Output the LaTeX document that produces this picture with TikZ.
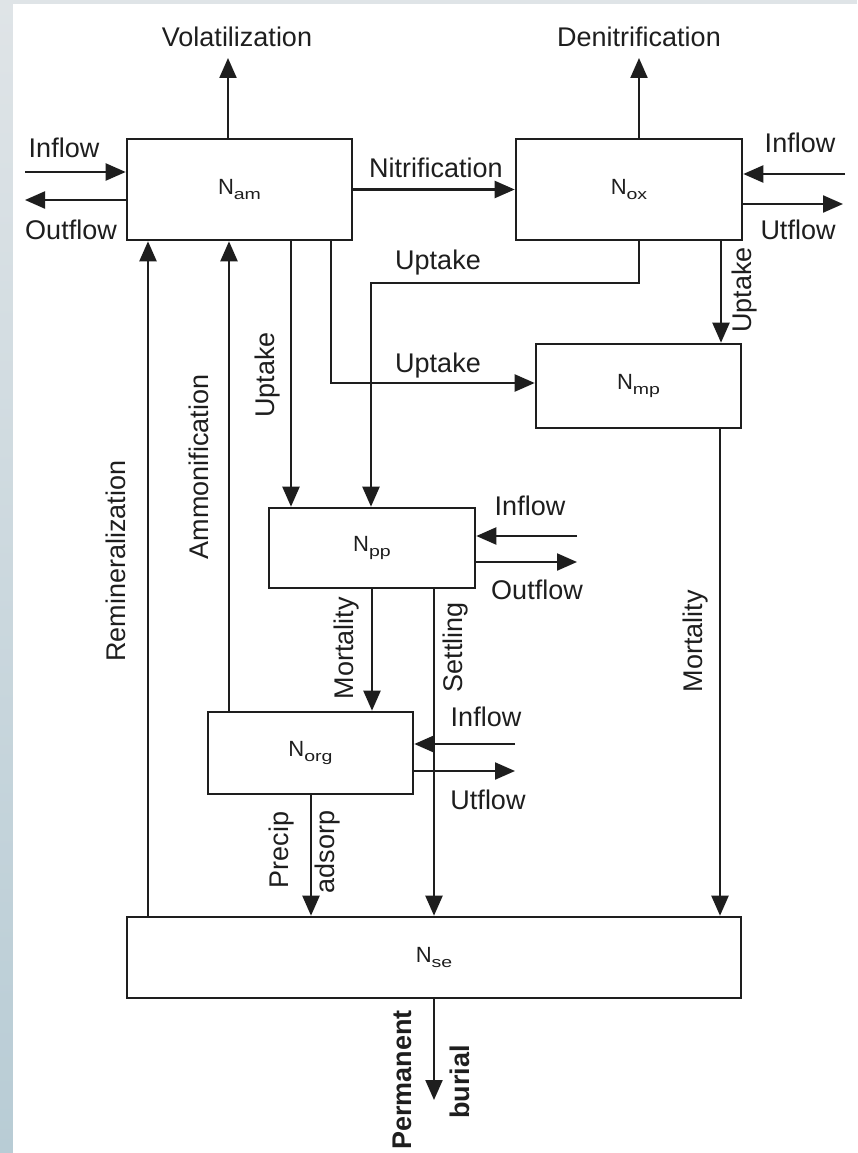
\documentclass[tikz,border=0pt]{standalone}
\usepackage{fontspec}
\usepackage{graphicx}
\setmainfont{Liberation Sans}
\usetikzlibrary{arrows.meta}
\definecolor{ink}{HTML}{1E1E1E}
\definecolor{framec}{HTML}{DFE4E7}
\definecolor{stripb}{HTML}{B8CCD5}
\newcommand\Nsub[1]{N\raisebox{-0.22em}{\scalebox{1.3}[1]{\fontsize{15}{17}\selectfont #1}}}
\begin{document}
\begin{tikzpicture}[x=1pt,y=-1pt,
  box/.style={draw=ink, line width=2.6pt, fill=white, inner sep=0pt,
    font=\fontsize{22}{26}\selectfont, text=ink},
  arr/.style={draw=ink, line width=2.2pt, -{Triangle[length=20pt,width=17pt]}},
  lab/.style={font=\fontsize{27}{32}\selectfont, text=ink, inner sep=0pt},
  rlab/.style={lab, rotate=90},
  blab/.style={lab, rotate=90, font=\fontsize{27}{32}\selectfont\bfseries}]
\useasboundingbox (0,0) rectangle (857,1153);
\fill[framec] (0,0) rectangle (857,1153);
\shade[top color=framec, bottom color=stripb] (0,0) rectangle (13,1153);
\fill[white] (13,4) rectangle (857,1153);

% boxes
\node[box, minimum width=225pt, minimum height=101pt] (am) at (239.5,189.5) {\Nsub{am}};
\node[box, minimum width=226pt, minimum height=101pt] (ox) at (629,189.5) {\Nsub{ox}};
\node[box, minimum width=205pt, minimum height=84pt] (mp) at (638.5,386) {\Nsub{mp}};
\node[box, minimum width=206pt, minimum height=80pt] (pp) at (372,548) {\Nsub{pp}};
\node[box, minimum width=205pt, minimum height=82pt] (org) at (310.5,753) {\Nsub{org}};
\node[box, minimum width=614pt, minimum height=81pt] (se) at (434,957.5) {\Nsub{se}};

% coordinates
\coordinate (volT) at (228,58);
\coordinate (denT) at (639,58);
\coordinate (inA) at (25,172);
\coordinate (outA) at (25,200);
\coordinate (inOx) at (845,174);
\coordinate (utOx) at (843,204);
\coordinate (c1) at (639,283);
\coordinate (c2) at (371,283);
\coordinate (c3) at (721,300);
\coordinate (c4) at (331,383);
\coordinate (c5) at (291,400);
\coordinate (c6) at (148,500);
\coordinate (c7) at (229,500);
\coordinate (c8) at (372,650);
\coordinate (c9) at (434,650);
\coordinate (inPp) at (577,536);
\coordinate (outPp) at (577,562);
\coordinate (inOrg) at (515,744);
\coordinate (utOrg) at (515,771);
\coordinate (c10) at (311,850);
\coordinate (c11) at (720,650);
\coordinate (bur) at (434,1100);

% connectors
\draw[arr] (volT |- am.north) -- (volT);
\draw[arr] (denT |- ox.north) -- (denT);
\draw[arr] (inA) -- (inA -| am.west);
\draw[arr] (outA -| am.west) -- (outA);
\draw[arr] (am.east) -- (ox.west);
\draw[arr] (inOx) -- (inOx -| ox.east);
\draw[arr] (utOx -| ox.east) -- (utOx);
\draw[arr] (c1 |- ox.south) -- (c1) -- (c2) -- (c2 |- pp.north);
\draw[arr] (c3 |- ox.south) -- (c3 |- mp.north);
\draw[arr] (c4 |- am.south) -- (c4) -- (c4 -| mp.west);
\draw[arr] (c5 |- am.south) -- (c5 |- pp.north);
\draw[arr] (c6 |- se.north) -- (c6 |- am.south);
\draw[arr] (c7 |- org.north) -- (c7 |- am.south);
\draw[arr] (c8 |- pp.south) -- (c8 |- org.north);
\draw[arr] (c9 |- pp.south) -- (c9 |- se.north);
\draw[arr] (inPp) -- (inPp -| pp.east);
\draw[arr] (outPp -| pp.east) -- (outPp);
\draw[arr] (inOrg) -- (inOrg -| org.east);
\draw[arr] (utOrg -| org.east) -- (utOrg);
\draw[arr] (c10 |- org.south) -- (c10 |- se.north);
\draw[arr] (c11 |- mp.south) -- (c11 |- se.north);
\draw[arr] (bur |- se.south) -- (bur);

% labels
\node[lab] (lVol) at (237,37) {Volatilization};
\node[lab] (lDen) at (639,37) {Denitrification};
\node[lab] (lInA) at (64,148) {Inflow};
\node[lab] (lOutA) at (71,230) {Outflow};
\node[lab] (lNit) at (436,168) {Nitrification};
\node[lab] (lInOx) at (800,143) {Inflow};
\node[lab] (lUtOx) at (798,230) {Utflow};
\node[lab] (lUp1) at (438,263) {Uptake};
\node[rlab] (lUp2) at (745,290) {Uptake};
\node[lab] (lUp3) at (438,366) {Uptake};
\node[rlab] (lUp4) at (268,375) {Uptake};
\node[rlab] (lRem) at (116,561) {Remineralization};
\node[rlab] (lAmm) at (199,467) {Ammonification};
\node[lab] (lInPp) at (530,506) {Inflow};
\node[lab] (lOutPp) at (537,590) {Outflow};
\node[rlab] (lMort1) at (347,648) {Mortality};
\node[rlab] (lSet) at (456,647) {Settling};
\node[rlab] (lMort2) at (696,641) {Mortality};
\node[lab] (lInOrg) at (486,717) {Inflow};
\node[lab] (lUtOrg) at (488,800) {Utflow};
\node[rlab] (lPre) at (282,850) {Precip};
\node[rlab] (lAds) at (328,852) {adsorp};
\node[blab] (lPerm) at (402,1080) {Permanent};
\node[blab] (lBur) at (460,1082) {burial};
\end{tikzpicture}
\end{document}
